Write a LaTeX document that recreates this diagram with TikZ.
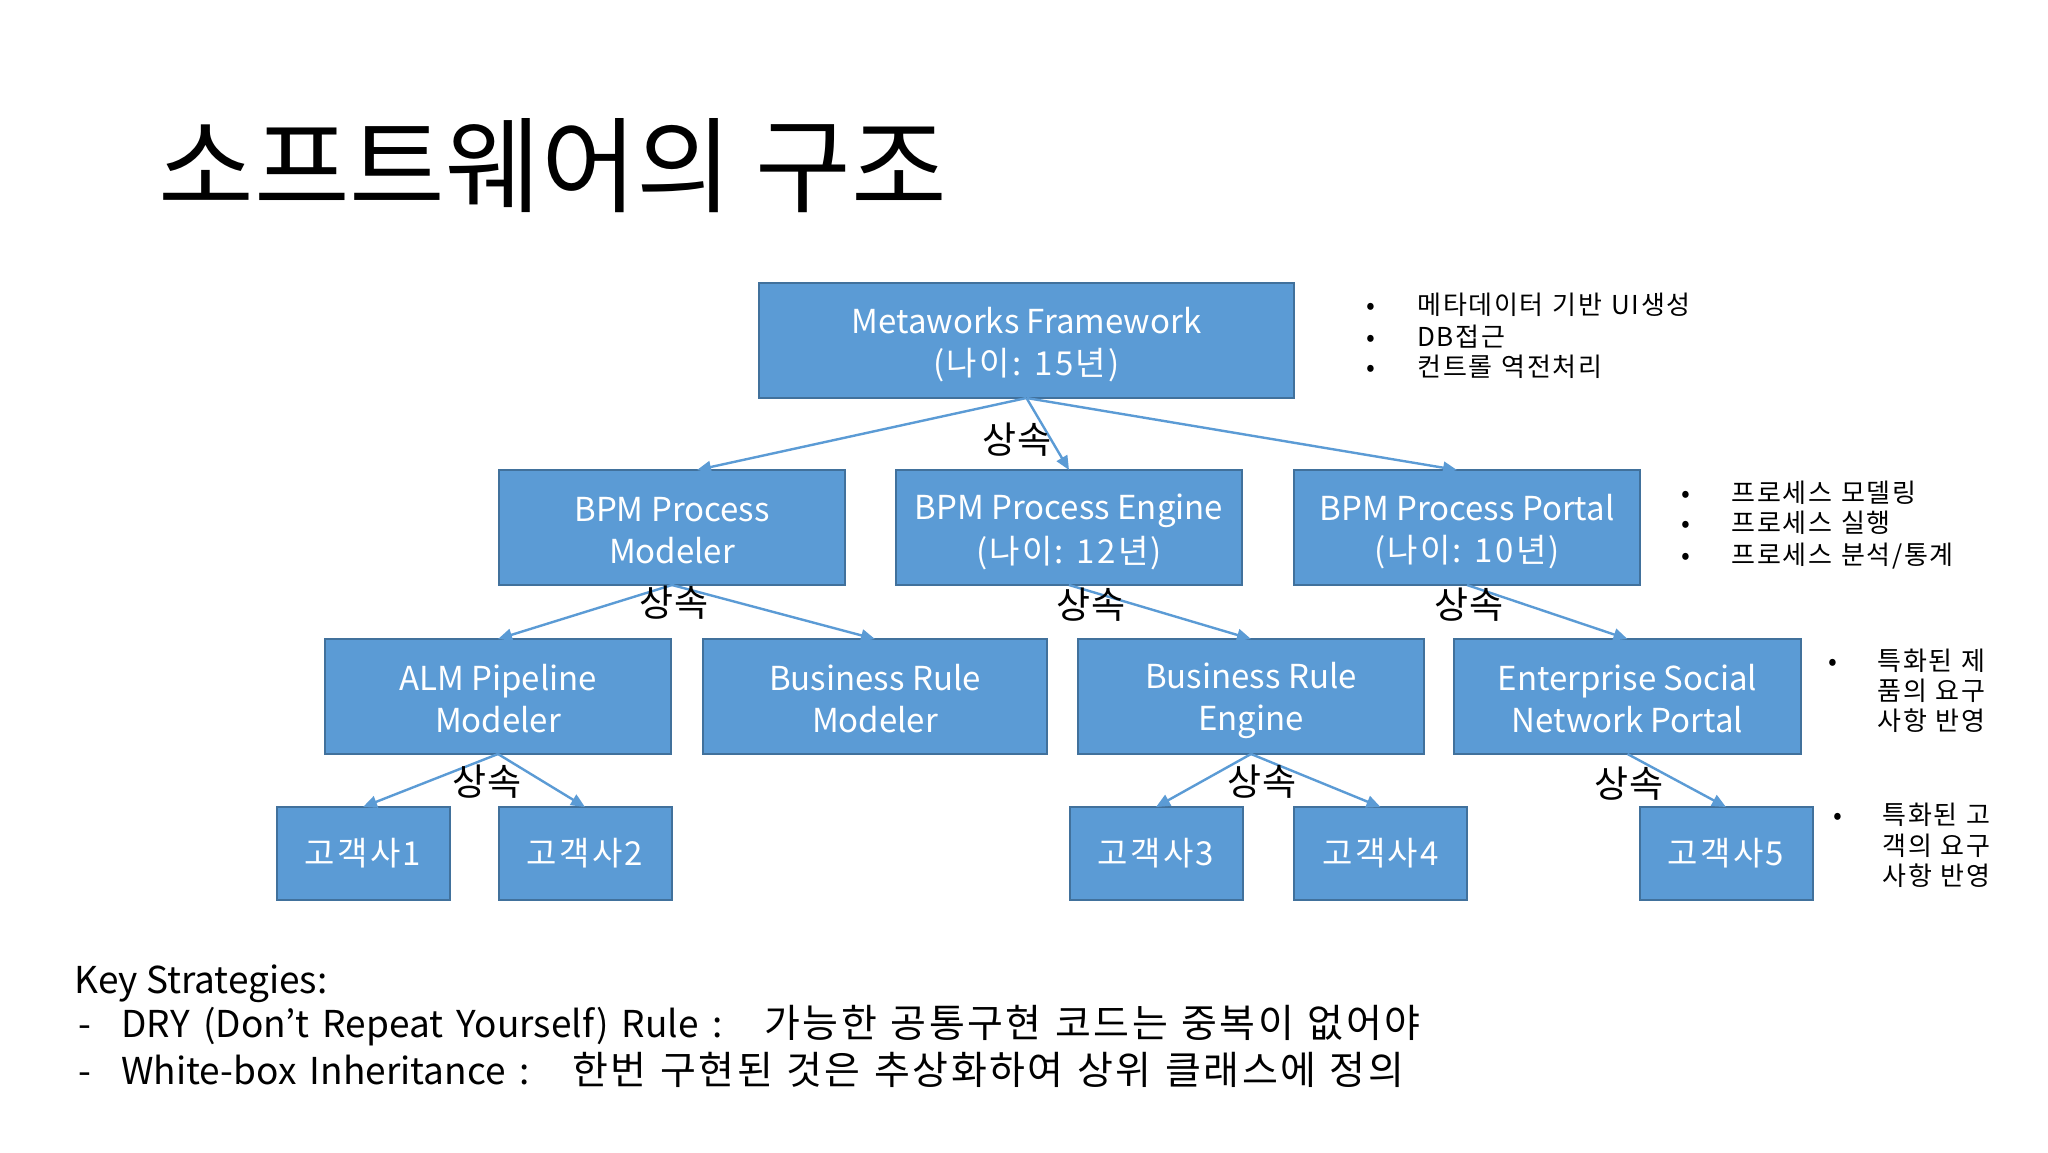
\documentclass[tikz,border=0pt]{standalone}
\usepackage{fontspec}
\setmainfont{Noto Sans CJK KR}
\newfontfamily\widekr[WordSpace=1.4,LetterSpace=6.5]{Noto Sans CJK KR}
\newfontfamily\widelat[WordSpace=1.6]{Noto Sans CJK KR}
\newfontfamily\bulkr[WordSpace=1.2,LetterSpace=6.5]{Noto Sans CJK KR}
\newfontfamily\boxkr[LetterSpace=7]{Noto Sans CJK KR}
\usetikzlibrary{arrows.meta}
\definecolor{boxfill}{HTML}{5B9BD5}
\definecolor{boxborder}{HTML}{41719C}
\definecolor{arrowblue}{HTML}{5B9BD5}
\newcommand\bxs{\rule[-1.8pt]{0pt}{19pt}}
\begin{document}
\begin{tikzpicture}[x=0.5pt,y=-0.5pt,
  bx/.style={draw=boxborder, fill=boxfill, line width=1pt, text=white, align=center,
    inner sep=0pt, outer sep=0pt, minimum height=57.5pt, font=\fontsize{16.5}{21}\selectfont},
  cbx/.style={bx, minimum height=46.5pt, minimum width=86.5pt},
  conn/.style={draw=arrowblue, line width=1.2pt, -{Triangle[length=7pt,width=6pt]}},
  inh/.style={inner sep=0pt, font=\fontsize{18.5}{20}\selectfont},
  bul/.style={inner sep=0pt, anchor=base west, font=\bulkr\fontsize{13}{15}\selectfont},
  bottomtxt/.style={inner sep=0pt, anchor=base west, font=\fontsize{18.5}{22}\selectfont},
  bottomkr/.style={bottomtxt, font=\widekr\fontsize{19.5}{22}\selectfont}]
\path[use as bounding box, fill=white] (0,0) rectangle (2048,1152);

% title
\node[inner sep=0pt, anchor=west, font=\fontsize{52}{60}\selectfont] (title) at (158,166) {소프트웨어의 구조};

% boxes
\node[bx, minimum width=267.5pt] (mw) at (1026.5,340.5) {\bxs Metaworks Framework\\\bxs{\boxkr(나이: 15년)}};
\node[bx, minimum width=173pt] (bm) at (672,527.5) {\bxs BPM Process\\\bxs Modeler};
\node[bx, minimum width=173pt] (be) at (1069,527.5) {\bxs BPM Process Engine\\\bxs{\boxkr(나이: 12년)}};
\node[bx, minimum width=173pt] (bp) at (1467,527.5) {\bxs BPM Process Portal\\\bxs{\boxkr(나이: 10년)}};
\node[bx, minimum width=173pt] (alm) at (498,696.5) {\bxs ALM Pipeline\\\bxs Modeler};
\node[bx, minimum width=172pt] (brm) at (875,696.5) {\bxs Business Rule\\\bxs Modeler};
\node[bx, minimum width=173pt] (bre) at (1251,696.5) {\bxs Business Rule\\\bxs Engine};
\node[bx, minimum width=173.5pt] (esn) at (1627.5,696.5) {\bxs Enterprise Social\\\bxs Network Portal};
\node[cbx] (c1) at (363,853.5) {\boxkr 고객사1};
\node[cbx] (c2) at (585,853.5) {\boxkr 고객사2};
\node[cbx] (c3) at (1156,853.5) {\boxkr 고객사3};
\node[cbx] (c4) at (1380.5,853.5) {\boxkr 고객사4};
\node[cbx] (c5) at (1726,853.5) {\boxkr 고객사5};

% connectors
\draw[conn] (mw.south) -- ([xshift=12.5pt]bm.north);
\draw[conn] (mw.south) -- (be.north);
\draw[conn] (mw.south) -- ([xshift=-5pt]bp.north);
\draw[conn] (bm.south) -- (alm.north);
\draw[conn] (bm.south) -- (brm.north);
\draw[conn] (be.south) -- (bre.north);
\draw[conn] (bp.south) -- (esn.north);
\draw[conn] (alm.south) -- (c1.north);
\draw[conn] (alm.south) -- (c2.north);
\draw[conn] (bre.south) -- (c3.north);
\draw[conn] (bre.south) -- (c4.north);
\draw[conn] (esn.south) -- (c5.north);

% inheritance labels
\node[inh] (l1) at (1017,440) {상속};
\node[inh] (l2) at (674,603) {상속};
\node[inh] (l3) at (1091,605) {상속};
\node[inh] (l4) at (1469,605) {상속};
\node[inh] (l5) at (487,782) {상속};
\node[inh] (l6) at (1262,782) {상속};
\node[inh] (l7) at (1629,784) {상속};

% bullet lists
\node[bul] (g1a) at (1366,314) {\makebox[25.5pt][l]{•}메타데이터 기반 UI생성};
\node[bul] (g1b) at (1366,346) {\makebox[25.5pt][l]{•}DB접근};
\node[bul] (g1c) at (1366,376) {\makebox[25.5pt][l]{•}컨트롤 역전처리};

\node[bul] (g2a) at (1681,502) {\makebox[25pt][l]{•}프로세스 모델링};
\node[bul] (g2b) at (1681,532) {\makebox[25pt][l]{•}프로세스 실행};
\node[bul] (g2c) at (1681,564) {\makebox[25pt][l]{•}프로세스 분석/통계};

\node[bul] (g3a) at (1828,670) {\makebox[24.5pt][l]{•}특화된 제};
\node[bul] (g3b) at (1877,700) {품의 요구};
\node[bul] (g3c) at (1877,730) {사항 반영};

\node[bul] (g4a) at (1833,824) {\makebox[24.5pt][l]{•}특화된 고};
\node[bul] (g4b) at (1882,855) {객의 요구};
\node[bul] (g4c) at (1882,885) {사항 반영};

% bottom text
\node[bottomtxt] (ks) at (74,993) {Key Strategies:};
\node[bottomtxt] (d1) at (78,1037) {-};
\node[bottomtxt, font=\widelat\fontsize{18.5}{22}\selectfont] (dry) at (121,1037) {DRY (Don’t Repeat Yourself) Rule :};
\node[bottomkr] (dryk) at (764,1037) {가능한 공통구현 코드는 중복이 없어야};
\node[bottomtxt] (d2) at (78,1084) {-};
\node[bottomtxt, font=\widelat\fontsize{18.5}{22}\selectfont] (wb) at (121,1084) {White-box Inheritance :};
\node[bottomkr] (wbk) at (572,1084) {한번 구현된 것은 추상화하여 상위 클래스에 정의};
\end{tikzpicture}
\end{document}
